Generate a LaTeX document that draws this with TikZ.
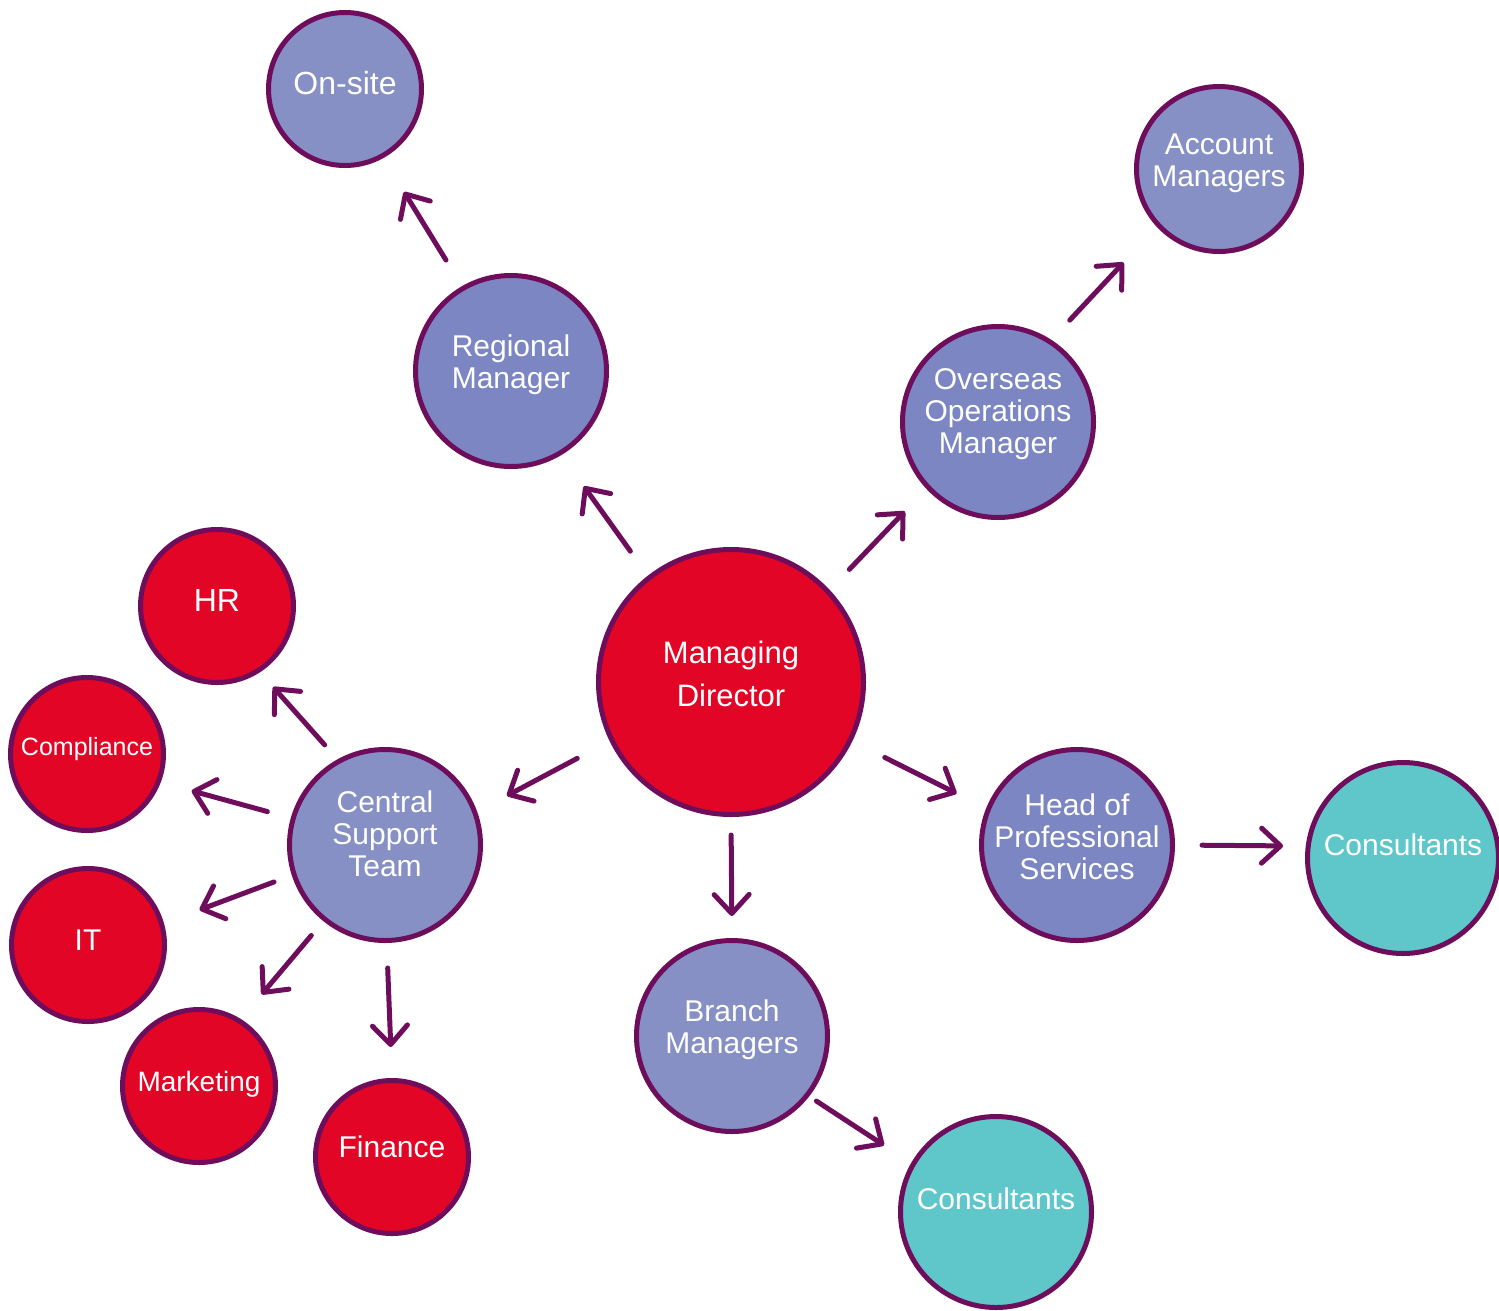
\documentclass[tikz,border=0pt]{standalone}
\usepackage{fontspec}
\setmainfont{Liberation Sans}
\usetikzlibrary{arrows.meta}
\definecolor{mdred}{HTML}{E20526}
\definecolor{lavA}{HTML}{7C86C2}
\definecolor{lavB}{HTML}{8790C5}
\definecolor{teal}{HTML}{5FC6CA}
\definecolor{bord}{HTML}{6E0D5B}
\begin{document}
\begin{tikzpicture}[x=1pt,y=-1pt,
  base/.style={circle, draw=bord, line width=5pt, inner sep=0pt, text=white, align=center,
    font=\fontsize{30}{32}\selectfont},
  bigc/.style={base, minimum size=191pt},
  smallc/.style={base, minimum size=153pt, text height=22pt, text depth=12pt},
  oneline/.style={text height=22pt, text depth=27pt},
  twoline/.style={text height=40pt, text depth=6pt},
  threeline/.style={text height=70pt, text depth=8pt},
  arr/.style={draw=bord, line width=5pt, line cap=round,
    -{Straight Barb[length=19pt,width=35pt,round]}}
]
\useasboundingbox (0,0) rectangle (1499,1310);

% nodes
\node[base, fill=mdred, minimum size=265pt, text height=56pt, text depth=6.6pt,
  font=\fontsize{31}{43}\selectfont] (md) at (731,682) {Managing\\Director};
\node[bigc, twoline, fill=lavA] (reg) at (511,371) {Regional\\Manager};
\node[smallc, fill=lavB, font=\fontsize{32}{34}\selectfont] (ons) at (345,89) {On-site};
\node[bigc, threeline, fill=lavA] (ovs) at (998,422) {Overseas\\Operations\\Manager};
\node[base, twoline, fill=lavB, minimum size=165pt] (acc) at (1219,169) {Account\\Managers};
\node[bigc, threeline, fill=lavB] (cen) at (385,845) {Central\\Support\\Team};
\node[bigc, threeline, fill=lavA, text height=72pt, text depth=4pt] (head) at (1077,845) {Head of\\Professional\\Services};
\node[bigc, oneline, fill=teal] (conA) at (1403,858) {Consultants};
\node[bigc, twoline, fill=lavB] (br) at (732,1036) {Branch\\Managers};
\node[bigc, oneline, fill=teal] (conB) at (996,1212) {Consultants};
\node[smallc, fill=mdred, font=\fontsize{32}{34}\selectfont] (hr) at (217,606) {HR};
\node[smallc, fill=mdred, font=\fontsize{25}{27}\selectfont, text height=18pt, text depth=16pt] (com) at (87,754) {Compliance};
\node[smallc, fill=mdred] (it) at (88,945) {IT};
\node[smallc, fill=mdred, font=\fontsize{28}{30}\selectfont] (mkt) at (199,1086) {Marketing};
\node[smallc, fill=mdred, text depth=22pt] (fin) at (392,1157) {Finance};

% connectors
\draw[arr, shorten <=30.6pt, shorten >=39.7pt] (reg.120.4) -- (ons.299.8);
\draw[arr, shorten <=30.1pt, shorten >=38.5pt] (md.128.6) -- (reg.301.8);
\draw[arr, shorten <=28.4pt, shorten >=31.2pt] (md.43.3) -- (ovs.223.1);
\draw[arr, shorten <=26.9pt, shorten >=48.7pt] (ovs.57.3) -- (acc.223.5);
\draw[arr, shorten <=36.7pt, shorten >=33.7pt] (md.206.3) -- (cen.20.9);
\draw[arr, shorten <=36.3pt, shorten >=33.1pt] (md.334) -- (head.158.5);
\draw[arr, shorten <=18pt, shorten >=22pt] (md.270) -- (br.90);
\draw[arr, shorten <=27pt, shorten >=22.7pt] (head.0) -- (conA.173.8);
\draw[arr, shorten <=8.6pt, shorten >=32.4pt] (br.322.2) -- (conB.150.1);
\draw[arr, shorten <=19.3pt, shorten >=19.7pt] (cen.119.6) -- (hr.303.9);
\draw[arr, shorten <=24.3pt, shorten >=32pt] (cen.164.8) -- (com.339.6);
\draw[arr, shorten <=19pt, shorten >=38pt] (cen.198.4) -- (it.16.9);
\draw[arr, shorten <=18.7pt, shorten >=32.3pt] (cen.231.3) -- (mkt.58.6);
\draw[arr, shorten <=25pt, shorten >=31pt] (cen.271.9) -- (fin.90);
\end{tikzpicture}
\end{document}
